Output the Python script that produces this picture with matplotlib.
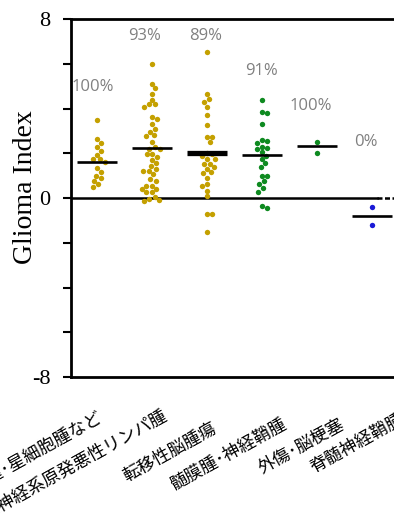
import numpy as np
import matplotlib
matplotlib.use("Agg")
import matplotlib.pyplot as plt
from matplotlib.transforms import ScaledTranslation, blended_transform_factory

# glioma index per diagnosis group
categories = ["神経膠腫･星細胞腫など", "中枢神経系原発悪性リンパ腫", "転移性脳腫瘍",
              "髄膜腫･神経鞘腫", "外傷･脳梗塞", "脊髄神経鞘腫"]
g_astro = [3.49, 2.65, 2.47, 2.29, 2.11, 1.93, 1.74, 1.74, 1.59, 1.32, 1.14,
           0.99, 0.88, 0.77, 0.63, 0.5]
g_lymph = [5.99, 5.1, 4.9, 4.65, 4.4, 4.2, 4.2, 4.05, 3.6, 3.53, 3.3, 3.08,
           2.95, 2.8, 2.76, 2.52, 2.3, 2.19, 2.19, 1.97, 1.97, 1.82, 1.7, 1.55,
           1.44, 1.3, 1.22, 1.22, 1.07, 0.85, 0.77, 0.55, 0.55, 0.4, 0.4, 0.25,
           0.25, 0.03, -0.05, -0.1, -0.14]
g_meta = [6.54, 4.65, 4.42, 4.3, 4.05, 3.71, 3.26, 2.71, 2.71, 2.49, 2.0, 1.97,
          1.89, 1.74, 1.74, 1.52, 1.52, 1.4, 1.3, 1.15, 1.1, 0.88, 0.63, 0.52,
          0.33, 0.08, -0.7, -0.7, -1.53]
g_mening = [4.4, 3.85, 3.8, 3.3, 2.6, 2.55, 2.46, 2.3, 2.22, 2.2, 2.04, 1.88,
            1.74, 1.56, 1.4, 1.0, 0.98, 0.77, 0.63, 0.43, 0.28, -0.34, -0.46]
g_trauma = [2.49, 2.0]
g_spinal = [-0.39, -1.19]
groups = [g_astro, g_lymph, g_meta, g_mening, g_trauma, g_spinal]
centre_line = [1.6, 2.25, 1.99, 1.92, 2.31, -0.79]
pct_labels = ["100%", "93%", "89%", "91%", "100%", "0%"]

# styling
colors = ["#c4a000", "#c4a000", "#c4a000", "#0e8a20", "#0e8a20", "#1a1ad6"]
line_widths = [1.9, 1.9, 3.8, 1.9, 1.9, 1.9]
pct_pos = [(0.93, 4.96), (1.875, 7.24), (2.97, 7.24), (4.0, 5.68), (4.89, 4.11), (5.89, 2.5)]
label_shift = [(0, -31), (10, -29), (4, -42), (20, -38), (22, -38), (26, -33)]  # px

W, H, DPI = 394, 524, 100
fig = plt.figure(figsize=(W / DPI, H / DPI), dpi=DPI)
ax_rect = [71 / W, 1 - 377 / H, 330 / W, 358 / H]
ax = fig.add_axes(ax_rect)
xlim = (0.53, 0.53 + 330 / 55)
ylim = (-8, 8)
ax.set_xlim(*xlim)
ax.set_ylim(*ylim)

# pixels per data unit, used to pack the swarm
px_x = ax_rect[2] * W / (xlim[1] - xlim[0])
px_y = ax_rect[3] * H / (ylim[1] - ylim[0])


def swarm(values, diam=5.6):
    ys = np.sort(np.asarray(values, float))[::-1] * px_y
    placed = []
    out = []
    for y in ys:
        cands = [0.0]
        for (px, py) in placed:
            dy = abs(y - py)
            if dy < diam:
                dx = np.sqrt(diam ** 2 - dy ** 2)
                cands += [px + dx, px - dx]
        cands.sort(key=abs)
        for c in cands:
            if all((c - px) ** 2 + (y - py) ** 2 >= diam ** 2 - 1e-6 for px, py in placed):
                break
        placed.append((c, y))
        out.append((c / px_x, y / px_y))
    return np.array(out)


for i, vals in enumerate(groups):
    xpos = i + 1
    pts = swarm(vals)
    ax.scatter(xpos + pts[:, 0], pts[:, 1], s=15, color=colors[i], lw=0, zorder=3)
    ax.plot([xpos - 0.37, xpos + 0.37], [centre_line[i]] * 2, color="black",
            lw=line_widths[i], solid_capstyle="butt", zorder=4)
    ax.text(pct_pos[i][0], pct_pos[i][1], pct_labels[i], ha="center", va="center",
            fontsize=12, color="#808080", family=["Open Sans", "DejaVu Sans"])

# zero line, broken near the right edge
ax.plot([xlim[0], 6.1], [0, 0], color="black", lw=1.8, zorder=2)
ax.plot([6.1, xlim[1]], [0, 0], color="black", lw=1.8, ls=(0, (2, 1)), zorder=2)

ax.set_yticks([-8, -6, -4, -2, 0, 2, 4, 6, 8])
ax.set_yticklabels(["-8", "", "", "", "0", "", "", "", "8"])
ax.tick_params(axis="y", length=6, width=1.5, pad=9, labelsize=16)
for t in ax.get_yticklabels():
    t.set_family(["Liberation Serif"])
ax.set_xticks([])
ax.set_ylabel("Glioma Index", family=["Liberation Serif"], fontsize=20)
ax.yaxis.set_label_coords(-0.10, 0.53)

for s in ["left", "top", "bottom"]:
    ax.spines[s].set_linewidth(2)
ax.spines["right"].set_visible(False)

# rotated category names under the axis
trans = blended_transform_factory(ax.transData, ax.transAxes)
for i, name in enumerate(categories):
    dx, dy = label_shift[i]
    off = ScaledTranslation(dx / DPI, dy / DPI, fig.dpi_scale_trans)
    ax.text(i + 1, 0, name, transform=trans + off, rotation=29,
            rotation_mode="anchor", ha="right", va="top", fontsize=12.5,
            family=["Noto Sans CJK JP", "DejaVu Sans"], clip_on=False)

fig.savefig("out.png", dpi=DPI)
